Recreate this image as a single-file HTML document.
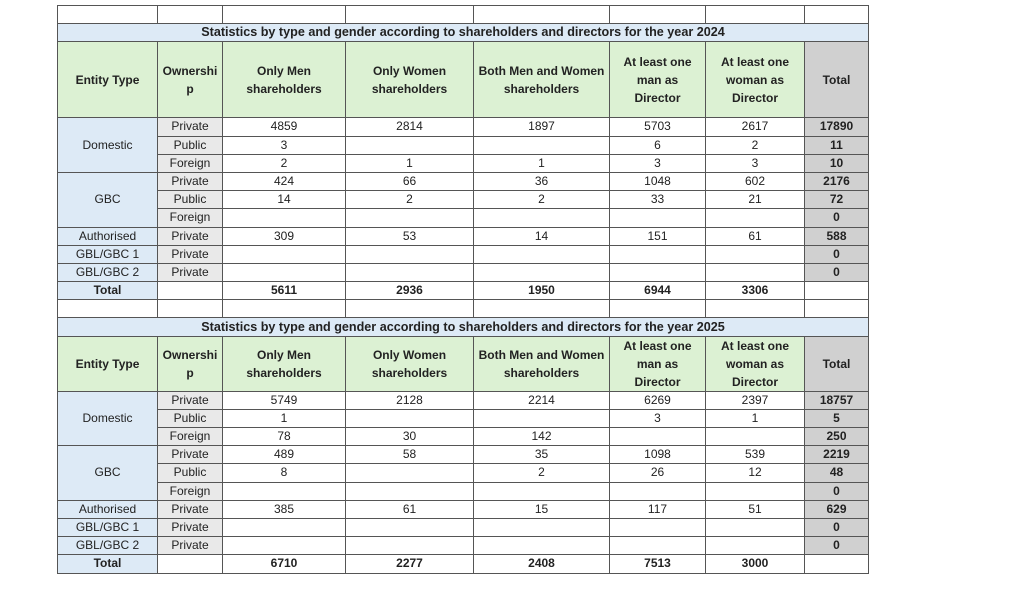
<!DOCTYPE html>
<html><head><meta charset="utf-8"><style>
body{margin:0;background:#fff;width:1024px;height:595px;overflow:hidden;font-family:"Liberation Sans",sans-serif;}
table{position:absolute;left:57px;border-collapse:collapse;table-layout:fixed;font-size:12px;color:#222;}
td{border:1px solid #555;text-align:center;padding:0;height:17.2px;line-height:15px;overflow:hidden;white-space:nowrap;}
.t{background:#ddeaf6;font-weight:bold;font-size:12.6px;}
.h td{background:#dcf1d3;font-weight:bold;line-height:18px;}
.h td.g{background:#d0d0d0;}
.e{background:#ddeaf6;}
.o{background:#e9e9e9;}
.g{background:#d0d0d0;font-weight:bold;}
.b{font-weight:bold;}
</style></head><body>
<table style="top:5px">
<colgroup><col style="width:100px"><col style="width:65px"><col style="width:123px"><col style="width:128px"><col style="width:136px"><col style="width:96px"><col style="width:99px"><col style="width:64px"></colgroup>
<tr><td></td><td></td><td></td><td></td><td></td><td></td><td></td><td></td></tr>
<tr><td colspan="8" class="t">Statistics by type and gender according to shareholders and directors for the year 2024</td></tr>
<tr class="h" style="height:76px"><td>Entity Type</td><td>Ownershi<br>p</td><td>Only Men<br>shareholders</td><td>Only Women<br>shareholders</td><td>Both Men and Women<br>shareholders</td><td>At least one<br>man as<br>Director</td><td>At least one<br>woman as<br>Director</td><td class="g">Total</td></tr>
<tr><td rowspan="3" class="e">Domestic</td><td class="o">Private</td><td>4859</td><td>2814</td><td>1897</td><td>5703</td><td>2617</td><td class="g">17890</td></tr>
<tr><td class="o">Public</td><td>3</td><td></td><td></td><td>6</td><td>2</td><td class="g">11</td></tr>
<tr><td class="o">Foreign</td><td>2</td><td>1</td><td>1</td><td>3</td><td>3</td><td class="g">10</td></tr>
<tr><td rowspan="3" class="e">GBC</td><td class="o">Private</td><td>424</td><td>66</td><td>36</td><td>1048</td><td>602</td><td class="g">2176</td></tr>
<tr><td class="o">Public</td><td>14</td><td>2</td><td>2</td><td>33</td><td>21</td><td class="g">72</td></tr>
<tr><td class="o">Foreign</td><td></td><td></td><td></td><td></td><td></td><td class="g">0</td></tr>
<tr><td class="e">Authorised</td><td class="o">Private</td><td>309</td><td>53</td><td>14</td><td>151</td><td>61</td><td class="g">588</td></tr>
<tr><td class="e">GBL/GBC 1</td><td class="o">Private</td><td></td><td></td><td></td><td></td><td></td><td class="g">0</td></tr>
<tr><td class="e">GBL/GBC 2</td><td class="o">Private</td><td></td><td></td><td></td><td></td><td></td><td class="g">0</td></tr>
<tr class="b"><td class="e">Total</td><td></td><td>5611</td><td>2936</td><td>1950</td><td>6944</td><td>3306</td><td></td></tr>
<tr><td></td><td></td><td></td><td></td><td></td><td></td><td></td><td></td></tr>
<tr><td colspan="8" class="t">Statistics by type and gender according to shareholders and directors for the year 2025</td></tr>
<tr class="h" style="height:54px"><td>Entity Type</td><td>Ownershi<br>p</td><td>Only Men<br>shareholders</td><td>Only Women<br>shareholders</td><td>Both Men and Women<br>shareholders</td><td>At least one<br>man as<br>Director</td><td>At least one<br>woman as<br>Director</td><td class="g">Total</td></tr>
<tr><td rowspan="3" class="e">Domestic</td><td class="o">Private</td><td>5749</td><td>2128</td><td>2214</td><td>6269</td><td>2397</td><td class="g">18757</td></tr>
<tr><td class="o">Public</td><td>1</td><td></td><td></td><td>3</td><td>1</td><td class="g">5</td></tr>
<tr><td class="o">Foreign</td><td>78</td><td>30</td><td>142</td><td></td><td></td><td class="g">250</td></tr>
<tr><td rowspan="3" class="e">GBC</td><td class="o">Private</td><td>489</td><td>58</td><td>35</td><td>1098</td><td>539</td><td class="g">2219</td></tr>
<tr><td class="o">Public</td><td>8</td><td></td><td>2</td><td>26</td><td>12</td><td class="g">48</td></tr>
<tr><td class="o">Foreign</td><td></td><td></td><td></td><td></td><td></td><td class="g">0</td></tr>
<tr><td class="e">Authorised</td><td class="o">Private</td><td>385</td><td>61</td><td>15</td><td>117</td><td>51</td><td class="g">629</td></tr>
<tr><td class="e">GBL/GBC 1</td><td class="o">Private</td><td></td><td></td><td></td><td></td><td></td><td class="g">0</td></tr>
<tr><td class="e">GBL/GBC 2</td><td class="o">Private</td><td></td><td></td><td></td><td></td><td></td><td class="g">0</td></tr>
<tr class="b"><td class="e">Total</td><td></td><td>6710</td><td>2277</td><td>2408</td><td>7513</td><td>3000</td><td></td></tr>
</table>
</body></html>
